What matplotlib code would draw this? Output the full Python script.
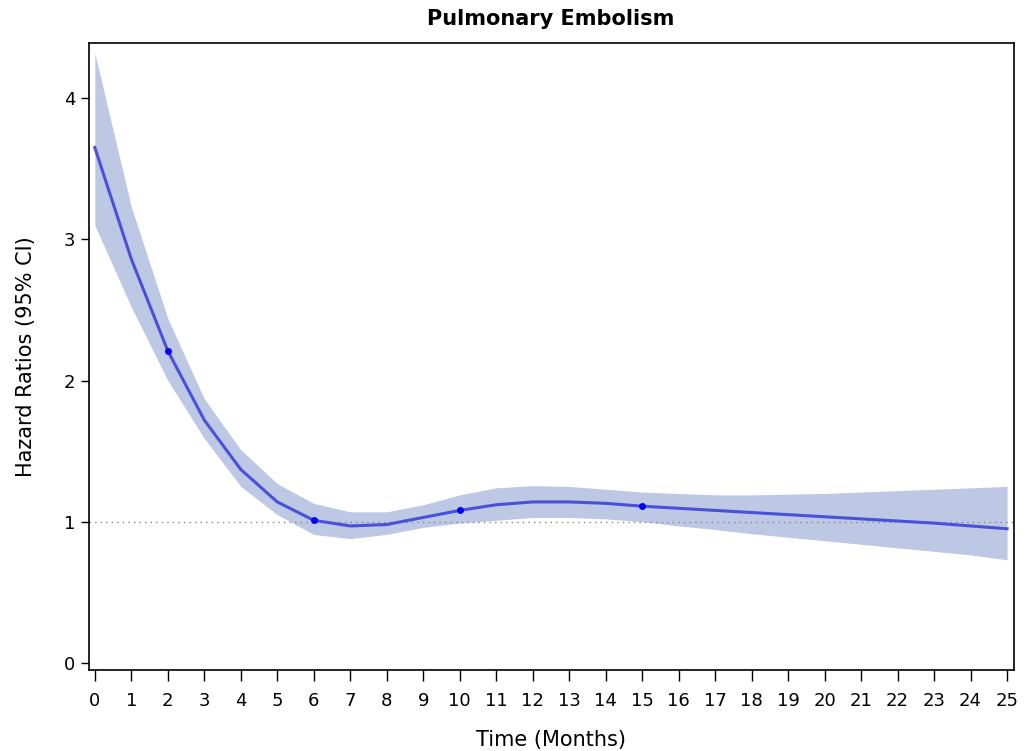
import matplotlib
matplotlib.use("Agg")
import matplotlib.pyplot as plt
from matplotlib import font_manager

months = list(range(26))
hr = [3.65, 2.86, 2.21, 1.72, 1.37, 1.14, 1.01, 0.97, 0.98, 1.03, 1.08, 1.12, 1.14,
      1.14, 1.13, 1.11, 1.095, 1.08, 1.065, 1.05, 1.035, 1.02, 1.005, 0.99, 0.97, 0.95]
upper = [4.32, 3.23, 2.44, 1.87, 1.51, 1.27, 1.13, 1.07, 1.07, 1.12, 1.19, 1.24, 1.255,
         1.25, 1.23, 1.21, 1.20, 1.19, 1.19, 1.195, 1.20, 1.21, 1.22, 1.23, 1.24, 1.25]
lower = [3.10, 2.52, 2.00, 1.59, 1.25, 1.05, 0.91, 0.88, 0.91, 0.96, 0.99, 1.01, 1.03,
         1.03, 1.02, 1.00, 0.97, 0.945, 0.915, 0.89, 0.865, 0.84, 0.815, 0.79, 0.765, 0.73]
marker_months = [2, 6, 10, 15]
y_ticks = [0, 1, 2, 3, 4]

names = {f.name for f in font_manager.fontManager.ttflist}
fam = 'Liberation Sans Narrow' if 'Liberation Sans Narrow' in names else 'DejaVu Sans'
plt.rcParams['font.family'] = [fam, 'DejaVu Sans']

fig = plt.figure(figsize=(10.31, 7.51), dpi=100)
ax = fig.add_axes([0.0863, 0.1079, 0.8972, 0.8348])

ax.fill_between(months, lower, upper, color='#bcc8e4', linewidth=0)
ax.axhline(1, color='#888888', linestyle=(0, (1, 3)), linewidth=1.0)
ax.plot(months, hr, color='#4a50d8', linewidth=2.2)
ax.plot(marker_months, [hr[m] for m in marker_months], 'o', color='#0000ff',
        markersize=4, linestyle='none')

ax.set_xlim(-0.16, 25.19)
ax.set_ylim(-0.05, 4.39)
ax.set_xticks(months)
ax.set_yticks(y_ticks)
ax.tick_params(axis='x', direction='out', length=8, width=1, labelsize=13, pad=8)
ax.tick_params(axis='y', direction='out', length=6, width=1, labelsize=13, pad=4)
for s in ax.spines.values():
    s.set_linewidth(1.2)
    s.set_color('black')

ax.set_xlabel('Time (Months)', fontsize=15, labelpad=14)
ax.set_ylabel('Hazard Ratios (95% CI)', fontsize=15, labelpad=20)
fig.text(0.5345, 0.975, 'Pulmonary Embolism', ha='center', va='center',
         fontsize=15, fontweight='bold', family=['DejaVu Sans'])

fig.savefig('out.png', dpi=100, facecolor='white')
